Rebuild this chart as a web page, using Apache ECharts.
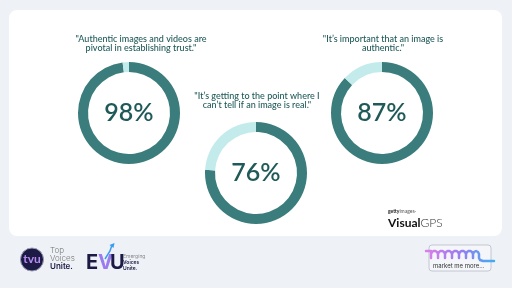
<!DOCTYPE html>
<html>
<head>
<meta charset="utf-8">
<script src="https://cdn.jsdelivr.net/npm/echarts@6/dist/echarts.min.js"></script>
<style>
  html, body { margin: 0; padding: 0; background: #eef1f6; }
  #chart { width: 512px; height: 288px; }
</style>
</head>
<body>
<div id="chart"></div>
<script>
// Survey statements and the share of respondents agreeing
const quotes = [
  '"Authentic images and videos are\npivotal in establishing trust."',
  '"It\u2019s getting to the point where I\ncan\u2019t tell if an image is real."',
  '"It\u2019s important that an image is\nauthentic."'
];
const agreePct = [98, 76, 87];

const DARK = '#3b7d7c';
const LIGHT = '#c3ebec';
const TEXT = '#1f5a58';
const FONT = 'Lato, "Open Sans", sans-serif';

// Donut placement on the card
const centers = [[129, 113], [256, 173], [382, 113]];
const quotePos = [[141, 34], [257, 91], [383, 34]];

const chart = echarts.init(document.getElementById('chart'), null, { renderer: 'canvas' });

const series = agreePct.map((v, i) => ({
  type: 'pie',
  center: centers[i],
  radius: [41, 51],
  startAngle: 90,
  clockwise: true,
  silent: true,
  avoidLabelOverlap: false,
  labelLine: { show: false },
  data: [
    {
      value: v,
      itemStyle: { color: DARK },
      label: {
        show: true, position: 'center', formatter: '{c}%',
        fontFamily: FONT, fontSize: 25, fontWeight: 600, color: TEXT
      }
    },
    { value: 100 - v, itemStyle: { color: LIGHT }, label: { show: false } }
  ]
}));

const titles = quotes.map((q, i) => ({
  text: q,
  left: quotePos[i][0],
  top: quotePos[i][1],
  padding: 0,
  textAlign: 'center',
  textStyle: {
    fontFamily: FONT, fontSize: 9, fontWeight: 500, color: TEXT, lineHeight: 9.5
  }
}));

const brandGrad = new echarts.graphic.LinearGradient(0, 0, 1, 0, [
  { offset: 0, color: '#e07ee8' },
  { offset: 0.5, color: '#9a7cf0' },
  { offset: 1, color: '#3ab0f0' }
]);

// hump path for the "mmm" wordmark
const mmmPts = [[426, 251], [431, 251]];
for (let k = 0; k < 6; k++) {
  const x0 = 431 + k * 7;
  mmmPts.push([x0, 258], [x0, 254], [x0 + 1, 252], [x0 + 2.5, 251], [x0 + 4.5, 251], [x0 + 6, 252], [x0 + 7, 254]);
}
mmmPts.push([473, 258], [473, 254], [474, 252], [476, 251], [478, 252], [479, 254], [479, 258], [480, 260], [483, 261], [494, 261]);

chart.setOption({
  backgroundColor: '#eef1f6',
  title: titles,
  graphic: [
    // white card
    { type: 'rect', z: -10, shape: { x: 9, y: 10, width: 493, height: 226, r: 8 }, style: { fill: '#ffffff' } },
    // Getty Images VisualGPS mark
    { type: 'text', left: 388, top: 209, style: { text: '{b|getty}{l|images\u00b7}', rich: { b: { font: 'bold 5px ' + FONT, fill: '#222' }, l: { font: '5px ' + FONT, fill: '#555' } } } },
    { type: 'text', left: 388, top: 217, style: { text: '{b|Visual}{l|GPS}', rich: { b: { font: 'bold 12px ' + FONT, fill: '#111' }, l: { font: '300 12px ' + FONT, fill: '#333' } } } },
    // Top Voices Unite badge
    { type: 'circle', shape: { cx: 32, cy: 259.5, r: 11.5 }, style: { fill: '#1d1a45', stroke: '#9aa0b8', lineWidth: 1 } },
    { type: 'text', x: 32, y: 259, style: { text: 'tvu', font: 'bold 12px ' + FONT, fill: '#b98cf2', align: 'center', verticalAlign: 'middle' } },
    { type: 'text', left: 50, top: 247, style: { text: 'Top', font: '300 8px Inter, sans-serif', fill: '#777' } },
    { type: 'text', left: 50, top: 255, style: { text: 'Voices', font: '300 8px Inter, sans-serif', fill: '#777' } },
    { type: 'text', left: 50, top: 263, style: { text: 'Unite.', font: '600 8px Inter, sans-serif', fill: '#1d1a45' } },
    // Emerging Voices Unite mark
    { type: 'text', left: 86, top: 253, style: { text: 'E', font: 'bold 20px Inter, sans-serif', fill: '#1d1a45' } },
    { type: 'text', left: 98, top: 253, style: { text: 'V', font: 'bold 20px Inter, sans-serif', fill: '#9b7cf0' } },
    { type: 'text', left: 110, top: 253, style: { text: 'U', font: 'bold 20px Inter, sans-serif', fill: '#1d1a45' } },
    { type: 'polyline', shape: { points: [[105, 259], [110, 251], [112, 245]] }, style: { stroke: '#3a9cf0', lineWidth: 1.5, fill: null } },
    { type: 'polygon', shape: { points: [[109.5, 245], [114.5, 243], [113.5, 248]] }, style: { fill: '#3a9cf0' } },
    { type: 'text', left: 123, top: 254, style: { text: 'Emerging', font: '5px Inter, sans-serif', fill: '#888' } },
    { type: 'text', left: 123, top: 260, style: { text: 'Voices', font: '600 5px Inter, sans-serif', fill: '#1d1a45' } },
    { type: 'text', left: 123, top: 266, style: { text: 'Unite.', font: '600 5px Inter, sans-serif', fill: '#1d1a45' } },
    // market me more mark
    { type: 'rect', shape: { x: 429, y: 245, width: 62, height: 26, r: 3 }, style: { fill: '#f4f6fa', stroke: '#b8bcc8', lineWidth: 0.8 } },
    { type: 'polyline', shape: { points: mmmPts },
      style: { stroke: brandGrad, lineWidth: 2.5, fill: null, lineJoin: 'round', lineCap: 'round' } },
    { type: 'text', left: 433, top: 263, style: { text: 'market me more...', font: '6px Inter, sans-serif', fill: '#333' } }
  ],
  series
});
</script>
</body>
</html>
